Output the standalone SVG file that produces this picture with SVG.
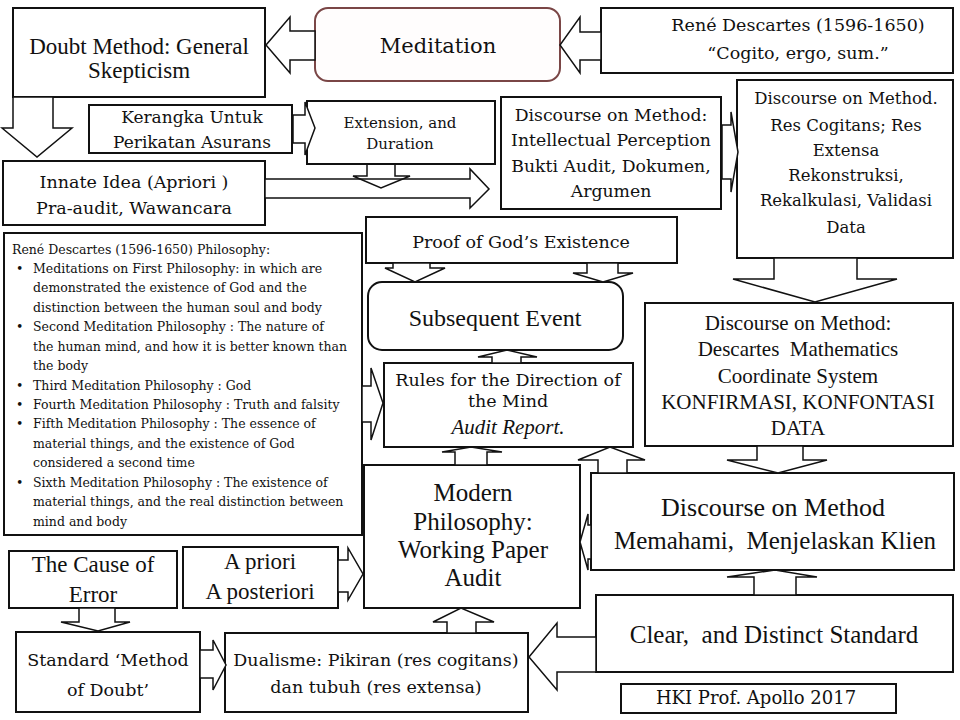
<svg xmlns="http://www.w3.org/2000/svg" width="960" height="720" viewBox="0 0 960 720">
<style>
.b{fill:#fff;stroke:#111;stroke-width:2}
.a{fill:#fff;stroke:#111;stroke-width:1.5;stroke-linejoin:miter}
.t{font-family:"Liberation Serif","Times New Roman",serif;text-anchor:middle;fill:#111}
.w{font-family:"DejaVu Serif",serif;text-anchor:middle;fill:#111}
.l{font-family:"DejaVu Serif",serif;font-size:12.5px;fill:#111}
</style>
<rect width="960" height="720" fill="#fff"/>
<g id="doubt"><rect class="b" x="13" y="8" width="252" height="89"/>
<text class="t" font-size="23" x="139" y="54">Doubt Method: General</text>
<text class="t" font-size="23" x="139" y="78">Skepticism</text></g>
<g id="meditation"><rect x="315" y="8" width="245" height="73" rx="13" fill="#fffdfd" stroke="#7a4646" stroke-width="2"/>
<text class="w" font-size="21" x="438" y="53">Meditation</text></g>
<g id="rene"><rect class="b" x="601" y="8" width="352" height="65"/>
<text class="w" font-size="17.5" x="798" y="31">René Descartes (1596-1650)</text>
<text class="w" font-size="17.5" x="798" y="59">“Cogito, ergo, sum.”</text></g>
<g id="kerangka"><rect class="b" x="89" y="105" width="203" height="48"/>
<text class="w" font-size="17" x="192" y="123">Kerangka Untuk</text>
<text class="w" font-size="17" x="192" y="148">Perikatan Asurans</text></g>
<g id="extension"><rect class="b" x="307" y="101" width="188" height="63"/>
<text class="w" font-size="15" x="400" y="128">Extension, and</text>
<text class="w" font-size="15" x="400" y="149">Duration</text></g>
<g id="innate"><rect class="b" x="3" y="161" width="262" height="64"/>
<text class="w" font-size="17.5" x="134" y="188">Innate Idea (Apriori )</text>
<text class="w" font-size="17.5" x="134" y="214">Pra-audit, Wawancara</text></g>
<g id="intellectual"><rect class="b" x="501" y="97" width="220" height="112"/>
<text class="w" font-size="17.3" x="611" y="121">Discourse on Method:</text>
<text class="w" font-size="17.3" x="611" y="146">Intellectual Perception</text>
<text class="w" font-size="17.3" x="611" y="172">Bukti Audit, Dokumen,</text>
<text class="w" font-size="17.3" x="611" y="197">Argumen</text></g>
<g id="rescogitans"><rect class="b" x="737" y="80" width="216" height="178"/>
<text class="w" font-size="16.5" x="846" y="104">Discourse on Method.</text>
<text class="w" font-size="16.5" x="846" y="131">Res Cogitans; Res</text>
<text class="w" font-size="16.5" x="846" y="156">Extensa</text>
<text class="w" font-size="16.5" x="846" y="181">Rekonstruksi,</text>
<text class="w" font-size="16.5" x="846" y="206">Rekalkulasi, Validasi</text>
<text class="w" font-size="16.5" x="846" y="233">Data</text></g>
<g id="proof"><rect class="b" x="366" y="217" width="311" height="46"/>
<text class="w" font-size="17.5" x="521" y="248">Proof of God’s Existence</text></g>
<g id="subsequent"><rect class="b" x="368" y="282" width="255" height="68" rx="14"/>
<text class="t" font-size="24" x="495" y="326">Subsequent Event</text></g>
<g id="philosophy"><rect class="b" x="4" y="233" width="358" height="302"/>
<text class="l" x="12" y="253.5">René Descartes (1596-1650) Philosophy:</text>
<g class="l">
<text x="16" y="273">•</text><text x="33" y="273">Meditations on First Philosophy: in which are</text>
<text x="33" y="292.4">demonstrated the existence of God and the</text>
<text x="33" y="311.8">distinction between the human soul and body</text>
<text x="16" y="331.2">•</text><text x="33" y="331.2">Second Meditation Philosophy : The nature of</text>
<text x="33" y="350.7">the human mind, and how it is better known than</text>
<text x="33" y="370.1">the body</text>
<text x="16" y="389.5">•</text><text x="33" y="389.5">Third Meditation Philosophy : God</text>
<text x="16" y="409">•</text><text x="33" y="409">Fourth Meditation Philosophy : Truth and falsity</text>
<text x="16" y="428.4">•</text><text x="33" y="428.4">Fifth Meditation Philosophy : The essence of</text>
<text x="33" y="447.8">material things, and the existence of God</text>
<text x="33" y="467.2">considered a second time</text>
<text x="16" y="486.7">•</text><text x="33" y="486.7">Sixth Meditation Philosophy : The existence of</text>
<text x="33" y="506.1">material things, and the real distinction between</text>
<text x="33" y="525.5">mind and body</text>
</g></g>
<g id="rules"><rect class="b" x="384" y="363" width="249" height="84"/>
<text class="w" font-size="17.5" x="508" y="386">Rules for the Direction of</text>
<text class="w" font-size="17.5" x="508" y="407">the Mind</text>
<text class="t" font-size="21" font-style="italic" x="508" y="434">Audit Report.</text></g>
<g id="mathematics"><rect class="b" x="645" y="303" width="308" height="143"/>
<text class="t" font-size="21" x="798" y="330">Discourse on Method:</text>
<text class="t" font-size="21" x="798" y="356" xml:space="preserve">Descartes  Mathematics</text>
<text class="t" font-size="21" x="798" y="383">Coordinate System</text>
<text class="t" font-size="21" x="798" y="409">KONFIRMASI, KONFONTASI</text>
<text class="t" font-size="21" x="798" y="435">DATA</text></g>
<g id="modern"><rect class="b" x="364" y="465" width="216" height="143"/>
<text class="t" font-size="25" x="473" y="501">Modern</text>
<text class="t" font-size="25" x="473" y="530">Philosophy:</text>
<text class="t" font-size="25" x="473" y="558">Working Paper</text>
<text class="t" font-size="25" x="473" y="586">Audit</text></g>
<g id="memahami"><rect class="b" x="591" y="473" width="363" height="97"/>
<text class="t" font-size="26" x="773" y="516">Discourse on Method</text>
<text class="t" font-size="25" x="775" y="549" xml:space="preserve">Memahami,  Menjelaskan Klien</text></g>
<g id="cause"><rect class="b" x="9" y="551" width="168" height="57"/>
<text class="t" font-size="23" x="93" y="572">The Cause of</text>
<text class="t" font-size="23" x="93" y="602">Error</text></g>
<g id="apriori"><rect class="b" x="183" y="547" width="155" height="61"/>
<text class="t" font-size="23" x="260" y="569">A priori</text>
<text class="t" font-size="23" x="260" y="599">A posteriori</text></g>
<g id="standard"><rect class="b" x="16" y="632" width="184" height="80"/>
<text class="w" font-size="17.5" x="108" y="666">Standard ‘Method</text>
<text class="w" font-size="17.5" x="108" y="696">of Doubt’</text></g>
<g id="dualisme"><rect class="b" x="225" y="633" width="303" height="79"/>
<text class="w" font-size="17.5" x="376" y="666">Dualisme: Pikiran (res cogitans)</text>
<text class="w" font-size="17.5" x="376" y="693">dan tubuh (res extensa)</text></g>
<g id="clear"><rect class="b" x="596" y="595" width="357" height="77"/>
<text class="t" font-size="25" x="774" y="643" xml:space="preserve">Clear,  and Distinct Standard</text></g>
<g id="hki"><rect class="b" x="621" y="684" width="275" height="29"/>
<text class="w" font-size="18" x="756" y="704">HKI Prof. Apollo 2017</text></g>
<g id="connectors">
<polygon class="a" points="315,31 290,31 290,17 266,45 290,73 290,60 315,60"/>
<polygon class="a" points="601,32 580,32 580,17 560,45 580,73 580,60 601,60"/>
<polygon class="a" points="13,97 13,128 2,128 37,157 72,128 53,128 53,97"/>
<polygon class="a" points="293,115 305,115 305,102 315,128 305,155 305,143 293,143"/>
<polygon class="a" points="265,179 470,179 470,169 489,189 470,208 470,198 265,198"/>
<polygon class="a" style="fill:none" points="367,164 367,176 353,176 381,188 410,176 395,176 395,164"/>
<polygon class="a" points="722,125 731,125 731,112 738,152 731,192 731,179 722,179"/>
<polygon class="a" points="393,263 393,268 385,268 415,282 445,268 430,268 430,263"/>
<polygon class="a" points="587,263 587,273 573,273 603,282 633,273 618,273 618,263"/>
<polygon class="a" points="774,258 774,279 733,279 815,302 897,279 857,279 857,258"/>
<polygon class="a" points="362,386 371,386 371,368 383,403 371,440 371,422 362,422"/>
<polygon class="a" points="492,363 492,357 478,357 507,350 537,357 521,357 521,363"/>
<polygon class="a" points="455,465 455,452 442,452 471,447 502,452 487,452 487,465"/>
<polygon class="a" points="598,473 598,460 578,460 610,447 645,460 627,460 627,473"/>
<polygon class="a" points="757,446 757,460 727,460 778,473 827,460 803,460 803,446"/>
<polygon class="a" points="591,525 588,525 588,514 580,542 588,570 588,559 591,559"/>
<polygon class="a" points="338,560 348,560 348,548 363,574 348,600 348,592 338,592"/>
<polygon class="a" points="79,608 79,622 61,622 98,631 130,622 115,622 115,608"/>
<polygon class="a" points="200,650 213,650 213,640 226,665 213,690 213,678 200,678"/>
<polygon class="a" points="447,633 447,622 433,622 461,608 494,622 476,622 476,633"/>
<polygon class="a" points="596,637 557,637 557,623 529,657 557,690 557,672 596,672"/>
<polygon class="a" points="754,595 754,577 727,577 775,570 817,577 796,577 796,595"/>
</g>
</svg>
